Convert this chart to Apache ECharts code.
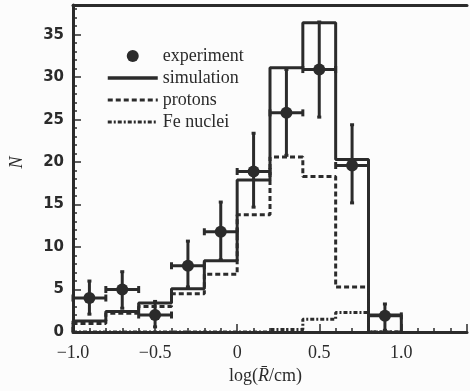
<!DOCTYPE html>
<html>
<head>
<meta charset="utf-8">
<script src="https://cdn.jsdelivr.net/npm/echarts@6/dist/echarts.min.js"></script>
<style>
html,body{margin:0;padding:0;background:#fcfcfc;}
#chart{width:470px;height:391px;}
</style>
</head>
<body>
<div id="chart"></div>
<script>
// Bin edges of log(R/cm)
var binEdges = [-1.0, -0.8, -0.6, -0.4, -0.2, 0.0, 0.2, 0.4, 0.6, 0.8, 1.0];
// Histogram heights per bin
var simulation = [1.3, 2.4, 3.4, 5.1, 8.4, 17.9, 31.1, 36.4, 20.3, 2.0];
var protons    = [1.0, 2.2, 3.0, 4.5, 6.8, 13.8, 20.6, 18.3, 5.3, 0];
var feNuclei   = [0, 0, 0, 0, 0, 0, 0.3, 1.5, 2.3, 0];
// Experiment points with error bars
var expX  = [-0.9, -0.7, -0.5, -0.3, -0.1, 0.1, 0.3, 0.5, 0.7, 0.9];
var expY  = [4.0, 5.0, 2.0, 7.8, 11.8, 18.9, 25.8, 30.9, 19.6, 1.9];
var expHi = [6.0, 7.1, 3.6, 10.7, 15.3, 23.4, 30.9, 36.5, 24.4, 3.3];
var expLo = [2.1, 2.8, 0.6, 5.3, 8.5, 14.7, 20.8, 25.3, 15.2, 0.2];
var expHalfWidth = 0.1;
// Tick labels
var xTickLabels = {'-1': '\u22121.0', '-0.5': '\u22120.5', '0': '0', '0.5': '0.5', '1': '1.0'};
var yTickLabels = [0, 5, 10, 15, 20, 25, 30, 35];

function stepPoints(edges, vals) {
  var pts = [[edges[0], 0]];
  for (var i = 0; i < vals.length; i++) {
    pts.push([edges[i], vals[i]]);
    pts.push([edges[i + 1], vals[i]]);
  }
  pts.push([edges[vals.length], 0]);
  return pts;
}

var ink = '#2b2b2b';
var expData = expX.map(function (x, i) { return [x, expY[i], expLo[i], expHi[i], expHalfWidth]; });
var noSymbol = {color: 'rgba(0,0,0,0)', borderWidth: 0, opacity: 0};

var chart = echarts.init(document.getElementById('chart'));
chart.setOption({
  backgroundColor: '#fcfcfc',
  animation: false,
  grid: {left: 69, right: 0, top: 5, bottom: 59},
  legend: {
    orient: 'vertical', left: 101, top: 42,
    itemWidth: 50, itemHeight: 12, itemGap: 4,
    lineStyle: {width: 3},
    data: [
      {name: 'experiment'},
      {name: 'simulation', itemStyle: noSymbol, lineStyle: {width: 3.5}},
      {name: 'protons', itemStyle: noSymbol, lineStyle: {width: 3}},
      {name: 'Fe nuclei', itemStyle: noSymbol, lineStyle: {width: 3}}
    ],
    textStyle: {fontFamily: 'Liberation Serif', fontSize: 18, color: ink}
  },
  xAxis: [{
    type: 'value', min: -1.0, max: 1.4, interval: 0.5,
    axisLine: {show: true, onZero: false, lineStyle: {color: ink, width: 3}},
    axisTick: {show: true, inside: true, length: 8, lineStyle: {color: ink, width: 1.5}},
    minorTick: {show: true, splitNumber: 5, length: 4, lineStyle: {color: ink, width: 1.5}},
    splitLine: {show: false},
    axisLabel: {
      margin: 12, fontFamily: 'Liberation Serif', fontSize: 18, color: ink,
      formatter: function (v) { var k = String(Math.round(v * 10) / 10); return xTickLabels[k] !== undefined ? xTickLabels[k] : ''; }
    },
    name: 'log({i|R\u0304}/cm)', nameLocation: 'middle', nameGap: 35,
    nameTextStyle: {fontFamily: 'Liberation Serif', fontSize: 18, color: ink, padding: [0, 9, 0, 0],
      rich: {i: {fontFamily: 'Liberation Serif', fontStyle: 'italic', fontSize: 18, color: ink}}}
  }, {
    type: 'value', position: 'top', min: -1.0, max: 1.4, interval: 0.5,
    axisLine: {show: true, onZero: false, lineStyle: {color: ink, width: 3}},
    axisTick: {show: false}, axisLabel: {show: false}, splitLine: {show: false}
  }],
  yAxis: {
    type: 'value', min: 0, max: 38.5, interval: 5,
    axisLine: {show: true, onZero: false, lineStyle: {color: ink, width: 3}},
    axisTick: {show: true, inside: true, length: 8, lineStyle: {color: ink, width: 1.5}},
    minorTick: {show: true, splitNumber: 5, length: 4, lineStyle: {color: ink, width: 1.5}},
    splitLine: {show: false},
    axisLabel: {
      margin: 9, fontFamily: 'DejaVu Sans', fontWeight: 'bold', fontSize: 15, color: ink,
      formatter: function (v) { return yTickLabels.indexOf(v) >= 0 ? String(v) : ''; }
    },
    name: 'N', nameLocation: 'middle', nameGap: 47, nameRotate: 90,
    nameTextStyle: {fontFamily: 'Liberation Serif', fontStyle: 'italic', fontSize: 18, color: ink, padding: [0, 0, 0, 12]}
  },
  series: [
    {
      name: 'simulation', type: 'line', symbol: 'none', color: ink,
      lineStyle: {color: ink, width: 3},
      data: stepPoints(binEdges.slice(0, 10), simulation.slice(0, 9))
    },
    {
      name: 'simulation', type: 'line', symbol: 'none', color: ink,
      lineStyle: {color: ink, width: 3},
      data: stepPoints(binEdges.slice(9), simulation.slice(9))
    },
    {
      name: 'protons', type: 'line', symbol: 'none', color: ink,
      lineStyle: {color: ink, width: 3, type: [5, 3]},
      data: stepPoints(binEdges, protons)
    },
    {
      name: 'Fe nuclei', type: 'line', symbol: 'none', color: ink,
      lineStyle: {color: ink, width: 3, type: [4, 2, 2, 2]},
      data: stepPoints(binEdges, feNuclei)
    },
    {
      type: 'custom', silent: true, z: 5,
      data: expData,
      renderItem: function (params, api) {
        var x = api.value(0), y = api.value(1), lo = api.value(2), hi = api.value(3), hw = api.value(4);
        var top = api.coord([x, hi]), bot = api.coord([x, lo]);
        var l = api.coord([x - hw, y]), r = api.coord([x + hw, y]);
        var st = {stroke: ink, lineWidth: 3};
        var cap = 3.5;
        return {type: 'group', children: [
          {type: 'line', shape: {x1: top[0], y1: top[1], x2: bot[0], y2: bot[1]}, style: st},
          {type: 'line', shape: {x1: l[0], y1: l[1], x2: r[0], y2: r[1]}, style: st},
          {type: 'line', shape: {x1: l[0], y1: l[1] - cap, x2: l[0], y2: l[1] + cap}, style: st},
          {type: 'line', shape: {x1: r[0], y1: r[1] - cap, x2: r[0], y2: r[1] + cap}, style: st},
          {type: 'line', shape: {x1: top[0] - 2, y1: top[1], x2: top[0] + 2, y2: top[1]}, style: st},
          {type: 'line', shape: {x1: bot[0] - 2, y1: bot[1], x2: bot[0] + 2, y2: bot[1]}, style: st}
        ]};
      }
    },
    {
      name: 'experiment', type: 'scatter', symbol: 'circle', symbolSize: 12, z: 6,
      itemStyle: {color: ink, opacity: 1},
      data: expX.map(function (x, i) { return [x, expY[i]]; })
    }
  ]
});
</script>
</body>
</html>
